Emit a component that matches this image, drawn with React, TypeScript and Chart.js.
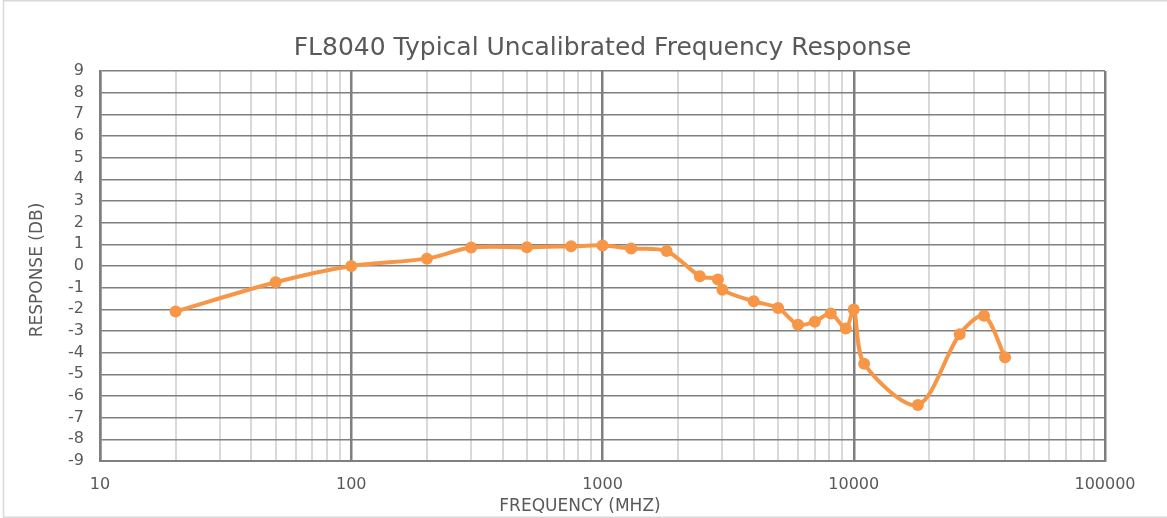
import React, { useEffect, useRef } from "react";
import { Chart, registerables } from "chart.js";

Chart.register(...registerables);

const frequencies: number[] = [20, 50, 100, 200, 300, 500, 750, 1000, 1300, 1800, 2440, 2880, 3000, 4000, 5000, 6000, 7000, 8100, 9300, 10000, 11000, 18000, 26400, 33000, 40000];
const responses: number[] = [-2.1, -0.75, 0, 0.34, 0.85, 0.86, 0.91, 0.95, 0.81, 0.69, -0.47, -0.62, -1.1, -1.63, -1.94, -2.71, -2.57, -2.19, -2.89, -2.01, -4.51, -6.41, -3.15, -2.3, -4.21];
const decades: number[] = [10, 100, 1000, 10000, 100000];
const multipliers: number[] = [1, 2, 3, 4, 5, 6, 7, 8, 9];

const TITLE = "FL8040 Typical Uncalibrated Frequency Response";
const X_TITLE = "FREQUENCY (MHZ)";
const Y_TITLE = "RESPONSE (DB)";
const FONT = "'DejaVu Sans', sans-serif";
const TEXT = "#595959";
const ORANGE = "#F79646";

const isDecade = (v: number) => decades.includes(v);

export default function App() {
  const ref = useRef<HTMLCanvasElement | null>(null);

  useEffect(() => {
    document.body.style.margin = "0";
    const canvas = ref.current;
    if (!canvas) return;

    const tickValues: number[] = [];
    decades.forEach((d, i) => {
      if (i === decades.length - 1) {
        tickValues.push(d);
      } else {
        multipliers.forEach((m) => tickValues.push(d * m));
      }
    });

    const decorPlugin = {
      id: "decor",
      beforeDraw(chart: any) {
        const c = chart.ctx;
        c.save();
        c.fillStyle = "#ffffff";
        c.fillRect(0, 0, chart.width, chart.height);
        c.strokeStyle = "#d9d9d9";
        c.lineWidth = 1.5;
        c.strokeRect(3.5, 0.75, chart.width + 10, chart.height - 1.5);
        c.restore();
      },
      afterDraw(chart: any) {
        const c = chart.ctx;
        const area = chart.chartArea;
        c.save();
        c.fillStyle = TEXT;
        c.textAlign = "center";
        c.textBaseline = "alphabetic";
        c.font = `25px ${FONT}`;
        c.fillText(TITLE, (area.left + area.right) / 2, 55);
        c.font = `17px ${FONT}`;
        c.fillText(X_TITLE, 580, 511);
        c.translate(42, 270);
        c.rotate(-Math.PI / 2);
        c.fillText(Y_TITLE, 0, 0);
        c.restore();
      },
    };

    const chart = new Chart(canvas, {
      type: "line",
      data: {
        datasets: [
          {
            data: frequencies.map((f, i) => ({ x: f, y: responses[i] })),
            borderColor: ORANGE,
            backgroundColor: ORANGE,
            borderWidth: 4,
            pointRadius: 6,
            pointBorderWidth: 0,
            pointBackgroundColor: ORANGE,
            tension: 0.3,
            fill: false,
          },
        ],
      },
      options: {
        animation: false,
        responsive: false,
        maintainAspectRatio: false,
        layout: { padding: { left: 0, right: 62, top: 71, bottom: 0 } },
        plugins: {
          legend: { display: false },
          tooltip: { enabled: false },
          title: { display: false },
        },
        scales: {
          x: {
            type: "logarithmic",
            min: 10,
            max: 100000,
            afterBuildTicks(scale: any) {
              scale.ticks = tickValues.map((v) => ({ value: v, major: isDecade(v) }));
            },
            afterFit(scale: any) {
              scale.height = 57;
            },
            ticks: {
              autoSkip: false,
              maxRotation: 0,
              minRotation: 0,
              padding: 14,
              color: TEXT,
              font: { family: FONT, size: 16 },
              callback: (v: any) => (isDecade(Number(v)) ? String(v) : ""),
            },
            grid: {
              drawTicks: false,
              color: (ctx: any) => (ctx.tick && isDecade(ctx.tick.value) ? "#7f7f7f" : "#d9d9d9"),
              lineWidth: (ctx: any) => (ctx.tick && isDecade(ctx.tick.value) ? 2.5 : 2),
            },
            border: { display: true, color: "#7f7f7f", width: 2 },
            title: { display: false },
          },
          y: {
            type: "linear",
            min: -9,
            max: 9,
            afterFit(scale: any) {
              scale.width = 100;
            },
            ticks: {
              stepSize: 1,
              autoSkip: false,
              padding: 16,
              color: TEXT,
              font: { family: FONT, size: 16 },
            },
            grid: {
              drawTicks: false,
              color: "#7f7f7f",
              lineWidth: 1.5,
            },
            border: { display: true, color: "#7f7f7f", width: 2.5 },
            title: { display: false },
          },
        },
      },
      plugins: [decorPlugin],
    } as any);

    return () => chart.destroy();
  }, []);

  return (
    <div style={{ width: 1167, height: 518 }}>
      <canvas ref={ref} width={1167} height={518} style={{ display: "block" }} />
    </div>
  );
}
